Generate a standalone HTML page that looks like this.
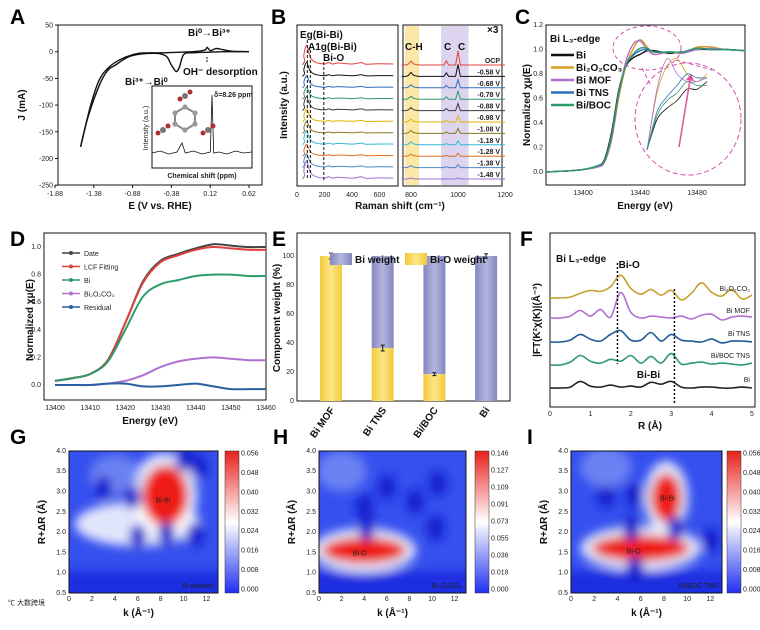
<!DOCTYPE html>
<html><head><meta charset="utf-8"><style>
html,body{margin:0;padding:0;background:#fff;}
svg{display:block;font-family:"Liberation Sans","Noto Sans CJK SC",sans-serif;}
.t{font-size:7px;fill:#222;}
.ax{font-size:10px;font-weight:bold;fill:#111;}
.pl{font-size:21px;font-weight:bold;fill:#000;}
</style></head><body>
<svg id="fig" width="760" height="630" viewBox="0 0 760 630" xmlns="http://www.w3.org/2000/svg">
<defs>
<linearGradient id="cbar" x1="0" y1="1" x2="0" y2="0"><stop offset="0" stop-color="#1f2ff0"/><stop offset="0.5" stop-color="#ffffff"/><stop offset="1" stop-color="#e8201c"/></linearGradient>
<linearGradient id="barBlue" x1="0" x2="1"><stop offset="0" stop-color="#8587c0"/><stop offset="0.5" stop-color="#b4b6de"/><stop offset="1" stop-color="#8587c0"/></linearGradient>
<linearGradient id="barYel" x1="0" x2="1"><stop offset="0" stop-color="#f2c93a"/><stop offset="0.5" stop-color="#fbe687"/><stop offset="1" stop-color="#f2c93a"/></linearGradient>
<filter id="blur" x="-50%" y="-50%" width="200%" height="200%"><feGaussianBlur stdDeviation="5"/></filter>
<clipPath id="clipG"><rect x="69" y="451" width="149" height="142"/></clipPath>
<clipPath id="clipH"><rect x="319" y="451" width="147" height="142"/></clipPath>
<clipPath id="clipI"><rect x="571" y="451" width="151" height="142"/></clipPath>
</defs>
</svg>
<script>
// ---------------- DATA ----------------
const cvLowerE = [-1.55,-1.45,-1.3,-1.2,-1.1,-0.9,-0.6,-0.45,-0.38,-0.32,-0.28,-0.22,-0.1,0.1,0.3,0.62];
const cvLowerJ = [-178,-120,-60,-35,-25,-8,-3,-8,-25,-37,-30,-5,-2,-1,0,0];
const cvUpperE = [0.62,0.4,0.28,0.2,0.16,0.12,0.08,0.05,-0.1,-0.5,-0.8,-1.0,-1.15,-1.3,-1.42,-1.55];
const cvUpperJ = [0,1,4,6,4,2,8,3,0,-2,-3,-12,-25,-50,-100,-178];
const aTicksX = [-1.88,-1.38,-0.88,-0.38,0.12,0.62];
const aTicksY = [50,0,-50,-100,-150,-200,-250];
const nmrShift = [7.9,7.95,8.0,8.05,8.08,8.1,8.15,8.2,8.25,8.26,8.27,8.3,8.35,8.4,8.45,8.5];
const nmrInt = [2,4,1,3,12,2,4,1,3,60,2,3,1,4,2,3];
const ramanLabels = ["OCP","-0.58 V","-0.68 V","-0.78 V","-0.88 V","-0.98 V","-1.08 V","-1.18 V","-1.28 V","-1.38 V","-1.48 V"];
const ramanColors = ["#e0443c","#111111","#2f6fc0","#2e9a6a","#3a3a3a","#e0b400","#8a7a20","#33b8d8","#e07020","#4a86c8","#a070d0"];
const ramanPeakLow = [20,14,12,12,14,13,12,14,12,14,18];
const ramanPeak800 = [4,4,3,3,3,3,3,3,2,2,1];
const ramanPeak1000 = [14,12,8,8,7,6,5,4,3,3,1];
const ramanShiftLow = [50,70,90,110,140,200,230,260,300,400,470,500,600,700];
const ramanTailShape = [0.5,1,0.5,0.25,0.12,0.05,0.12,0.05,0.1,0.05,0.12,0.04,0.06,0.05];
const xEnergy = [13374,13390,13400,13410,13415,13420,13425,13430,13435,13440,13445,13450,13460,13470,13480,13490,13500,13514];
const xColors = ["#111111","#d8a020","#b070d0","#2a70c0","#2e9a6a"];
const xBi   = [0,0.01,0.02,0.05,0.1,0.32,0.66,0.86,0.93,0.96,0.99,0.99,0.97,0.98,1.0,1.0,1.0,0.99];
const xBOC  = [0,0.01,0.02,0.04,0.08,0.26,0.6,0.86,1.0,1.08,1.02,0.96,0.98,0.97,1.02,1.02,1.0,0.99];
const xMOF  = [0,0.01,0.02,0.04,0.08,0.27,0.63,0.9,1.04,1.07,1.0,0.96,0.98,0.97,1.0,1.01,1.0,0.99];
const xTNS  = [0,0.01,0.02,0.05,0.09,0.3,0.64,0.87,0.95,0.99,1.0,0.98,0.98,0.98,1.01,1.0,1.0,0.99];
const xBiBOC= [0,0.01,0.02,0.05,0.09,0.29,0.63,0.87,0.96,1.01,1.01,0.98,0.98,0.98,1.01,1.0,1.0,0.99];
const cTicksX = [13400,13440,13480];
const cTicksY = [0,0.2,0.4,0.6,0.8,1.0,1.2];
const dEnergy = [13400,13405,13410,13415,13420,13425,13430,13435,13440,13445,13450,13455,13460];
const dDate = [0.03,0.05,0.08,0.18,0.45,0.75,0.90,0.95,0.99,1.02,1.01,1.0,1.0];
const dLCF  = [0.03,0.05,0.08,0.18,0.45,0.74,0.89,0.94,0.98,1.0,0.99,0.98,0.98];
const dBi   = [0.03,0.05,0.08,0.17,0.40,0.64,0.73,0.76,0.79,0.80,0.80,0.79,0.79];
const dBOC  = [0,0,0,0.01,0.03,0.07,0.13,0.17,0.19,0.20,0.19,0.18,0.18];
const dRes  = [0,0,0,0.01,0.01,-0.01,-0.01,0,0.01,-0.01,-0.03,-0.03,-0.03];
const dTicksX = [13400,13410,13420,13430,13440,13450,13460];
const dTicksY = [0,0.2,0.4,0.6,0.8,1.0];
const eCats = ["Bi MOF","Bi TNS","Bi/BOC","Bi"];
const eBiO = [100,36.5,18.5,0];
const eErr = [2,2,1,1.5];
const eTicksY = [0,20,40,60,80,100];
const fR = [0,0.25,0.5,0.75,1,1.25,1.5,1.75,2,2.25,2.5,2.75,3,3.25,3.5,3.75,4,4.25,4.5,4.75,5];
const fColors = ["#c8a030","#b070d0","#1f5a9a","#2e9a6a","#222222"];
const fBOC = [0,0,1,5,8,7,12,24,10,4,9,3,8,-2,5,16,6,2,9,-1,3];
const fMOF = [0,0,2,8,2,9,1,27,6,0,2,1,0,2,-1,3,4,-2,1,2,1];
const fTNS = [0,0,2,8,3,1,8,12,2,2,10,1,8,2,1,0,3,-1,1,1,0];
const fBiB = [0,0,3,10,4,2,6,4,10,2,9,2,12,1,2,3,1,2,1,0,2];
const fBi  = [0,0,1,7,2,1,3,1,2,1,6,4,7,1,0,1,1,0,0,1,0];
const gBlobK = [6,8.3,4,8.4,3,5.5,6,8.5,11,10,11.3];
const gBlobR = [2.2,2.9,3.4,2.9,3.1,2.85,1.9,1.95,1.95,3.8,3.6];
const gBlobType = ["w","w","l","r","d","d","d","d","d","d","d"];
const hBlobK = [4,4,2,4,4.2,6,8.5,10.5,10.3];
const hBlobR = [1.55,1.55,3.5,2.65,2.1,3.1,2.75,3.2,2.1];
const hBlobType = ["w","r","l","d","d","d","d","d","d"];
const iBlobK = [6,6,8.2,8.2,3,5.5,5.2,9,12,5.5,3];
const iBlobR = [1.6,1.6,2.85,2.85,2.9,2.9,2.1,2.1,1.8,1.1,3.6];
const iBlobType = ["w","r","w","r","d","d","d","d","d","d","l"];
const hmTicksK = [0,2,4,6,8,10,12];
const hmTicksR = [0.5,1.0,1.5,2.0,2.5,3.0,3.5,4.0];
const gCbar = ["0.000","0.008","0.016","0.024","0.032","0.040","0.048","0.056"];
const hCbar = ["0.000","0.018","0.036","0.055","0.073","0.091","0.109","0.127","0.146"];
const iCbar = ["0.000","0.008","0.016","0.024","0.032","0.040","0.048","0.056"];

// ---------------- HELPERS ----------------
const NS="http://www.w3.org/2000/svg";
const svg=document.getElementById('fig');
function mk(tag,attrs,parent){const e=document.createElementNS(NS,tag);for(const k in attrs)e.setAttribute(k,attrs[k]);(parent||svg).appendChild(e);return e;}
function txt(x,y,s,cls,extra){const e=mk('text',Object.assign({x:x,y:y,class:cls||'t'},extra||{}));e.textContent=s;return e;}
function pathFrom(xs,ys,fx,fy){let d='';for(let i=0;i<xs.length;i++){d+=(i?'L':'M')+fx(xs[i]).toFixed(1)+','+fy(ys[i]).toFixed(1);}return d;}
function smooth(xs,ys,fx,fy){const P=xs.map((x,i)=>[fx(x),fy(ys[i])]);let d='M'+P[0][0].toFixed(1)+','+P[0][1].toFixed(1);for(let i=0;i<P.length-1;i++){const p0=P[Math.max(0,i-1)],p1=P[i],p2=P[i+1],p3=P[Math.min(P.length-1,i+2)];const c1=[p1[0]+(p2[0]-p0[0])/6,p1[1]+(p2[1]-p0[1])/6],c2=[p2[0]-(p3[0]-p1[0])/6,p2[1]-(p3[1]-p1[1])/6];d+='C'+c1[0].toFixed(1)+','+c1[1].toFixed(1)+' '+c2[0].toFixed(1)+','+c2[1].toFixed(1)+' '+p2[0].toFixed(1)+','+p2[1].toFixed(1);}return d;}
function box(x,y,w,h){return mk('rect',{x:x,y:y,width:w,height:h,fill:'none',stroke:'#111','stroke-width':1});}
function panelLabel(x,y,s){const e=txt(x,y,s,'pl');}

// ================= PANEL A =================
panelLabel(10,24,'A');
const AX=e=>55+(e+1.88)/0.5*38.8, AY=j=>51.7-j*26.7/50;
let b=box(58,25,204,160);


aTicksX.forEach(v=>{mk('line',{x1:AX(v),x2:AX(v),y1:185,y2:188,stroke:'#111'});const t=txt(AX(v),196,v.toFixed(2),'t',{'text-anchor':'middle'});});
aTicksY.forEach(v=>{mk('line',{x1:55,x2:58,y1:AY(v),y2:AY(v),stroke:'#111'});const t=txt(53,AY(v)+2.5,String(v),'t',{'text-anchor':'end'});});
let at=txt(160,209,'E (V vs. RHE)','ax',{'text-anchor':'middle'});


at=txt(25,105,'J (mA)','ax',{'text-anchor':'middle',transform:'rotate(-90 25 105)'});


let p=mk('path',{d:smooth(cvLowerE,cvLowerJ,AX,AY),fill:'none',stroke:'#111','stroke-width':1.4});


p=mk('path',{d:smooth(cvUpperE,cvUpperJ,AX,AY),fill:'none',stroke:'#111','stroke-width':1.4});


at=txt(188,36,'Bi⁰→Bi³⁺','ax',{'font-size':'9'});


at=txt(125,85,'Bi³⁺→Bi⁰','ax',{'font-size':'9'});


at=txt(183,75,'OH⁻ desorption','ax',{'font-size':'9'});


mk('line',{x1:207,x2:207,y1:57,y2:63,stroke:'#111','stroke-dasharray':'2,1'});
b=box(152,86,100,82);


const NX=s=>152+(s-7.9)/0.6*100, NY=v=>155-v;
p=mk('path',{d:pathFrom(nmrShift,nmrInt,NX,NY),fill:'none',stroke:'#111','stroke-width':0.8});


at=txt(214,97,'δ=8.26 ppm','t',{'font-size':'7','font-weight':'bold'});


at=txt(202,178,'Chemical shift (ppm)','t',{'font-size':'5','text-anchor':'middle','font-weight':'bold'});


at=txt(148,128,'Intensity (a.u.)','t',{'font-size':'4.5','text-anchor':'middle',transform:'rotate(-90 148 128)'});


const mol=mk('g',{});


[[175,113],[185,107],[195,113],[195,124],[185,130],[175,124]].forEach((c,i,a)=>{const n=a[(i+1)%6];mk('line',{x1:c[0],y1:c[1],x2:n[0],y2:n[1],stroke:'#888','stroke-width':2},mol);});
[[185,96],[208,130],[163,130]].forEach(c=>{mk('circle',{cx:c[0],cy:c[1],r:3,fill:'#777'},mol);mk('circle',{cx:c[0]+5,cy:c[1]-4,r:2.5,fill:'#b03030'},mol);mk('circle',{cx:c[0]-5,cy:c[1]+3,r:2.5,fill:'#b03030'},mol);});
[[175,113],[185,107],[195,113],[195,124],[185,130],[175,124]].forEach(c=>mk('circle',{cx:c[0],cy:c[1],r:2.6,fill:'#999'},mol));

// ================= PANEL B =================
panelLabel(271,24,'B');
const BXL=r=>297+r*0.1375, BXR=r=>411+(r-800)*0.235;
const baseY=i=>65+i*11.4;
b=box(297,25,101,161);


b=box(403,25,99,161);


let band=mk('rect',{x:BXR(775),y:26,width:BXR(835)-BXR(775),height:159,fill:'#fbe8a8'});


band=mk('rect',{x:BXR(928),y:26,width:BXR(1045)-BXR(928),height:159,fill:'#ddd4ef'});


[0,200,400,600].forEach(v=>{const t=txt(BXL(v),197,String(v),'t',{'text-anchor':'middle','font-size':'9'});});
[800,1000,1200].forEach(v=>{const t=txt(BXR(v),197,String(v),'t',{'text-anchor':'middle','font-size':'9'});});
ramanLabels.forEach((lab,i)=>{
  const by=baseY(i);
  const xs=[40,55].concat(ramanShiftLow), ys=[0,0.2].concat(ramanTailShape);
  let pl=mk('path',{d:smooth(xs,ys,r=>BXL(Math.min(r,735)),v=>by-v*ramanPeakLow[i]),fill:'none',stroke:ramanColors[i],'stroke-width':1});
  
  
  const hx=[760,780,790,800,810,830,940,950,960,990,1000,1010,1030,1200];
  const hy=[0,0,0.3,1,0.3,0,0,0.3*ramanPeak1000[i]/ramanPeak800[i],0,0,ramanPeak1000[i]/ramanPeak800[i],0,0,0];
  pl=mk('path',{d:pathFrom(hx,hy,BXR,v=>by-v*ramanPeak800[i]),fill:'none',stroke:ramanColors[i],'stroke-width':1});
  
  
  const t=txt(500,by-2,lab,'t',{'text-anchor':'end','font-size':'7.5','font-weight':'bold'});
  
  
});
[BXL(75),BXL(97),BXL(195)].forEach((x,i)=>mk('line',{x1:x,x2:x,y1:[40,50,62][i],y2:180,stroke:'#111','stroke-dasharray':'3,2'}));
[['Eg(Bi-Bi)',300,38],['A1g(Bi-Bi)',308,50],['Bi-O',323,61]].forEach(a=>{const t=txt(a[1],a[2],a[0],'ax',{'font-size':'9.5','font-weight':'normal'});});
[['C-H',405,50],['C',444,50],['C',458,50],['×3',487,33]].forEach(a=>{const t=txt(a[1],a[2],a[0],'ax',{'font-size':'8'});});
at=txt(400,209,'Raman shift (cm⁻¹)','ax',{'text-anchor':'middle'});


at=txt(287,105,'Intensity (a.u.)','ax',{'text-anchor':'middle',transform:'rotate(-90 287 105)'});



// ================= PANEL C =================
panelLabel(515,24,'C');
const CX=e=>583+(e-13400)*1.425, CY=v=>172-v*122.5;
b=box(546,25,199,160);


cTicksX.forEach(v=>{const t=txt(CX(v),195,String(v),'t',{'text-anchor':'middle','font-size':'6'});});
cTicksY.forEach(v=>{const t=txt(543,CY(v)+2,v.toFixed(1),'t',{'text-anchor':'end','font-size':'6'});});
[xBi,xBOC,xMOF,xTNS,xBiBOC].forEach((s,i)=>{const pl=mk('path',{d:smooth(xEnergy,s,CX,CY),fill:'none',stroke:xColors[i],'stroke-width':1.4});});
at=txt(550,42,'Bi L₃-edge','ax',{'font-size':'10'});


["Bi","Bi₂O₂CO₃","Bi MOF","Bi TNS","Bi/BOC"].forEach((n,i)=>{const y=55+i*12.5;mk('line',{x1:551,x2:574,y1:y,y2:y,stroke:xColors[i],'stroke-width':2.5});const t=txt(576,y+3.5,n,'ax',{'font-size':'9.5'});});
mk('ellipse',{cx:647,cy:48,rx:34,ry:22,fill:'none',stroke:'#d050b0','stroke-dasharray':'4,3'});
let cz=mk('ellipse',{cx:688,cy:119,rx:53,ry:56,fill:'none',stroke:'#d050b0','stroke-dasharray':'5,3'});


mk('line',{x1:642,x2:650,y1:68,y2:84,stroke:'#d050b0','stroke-dasharray':'4,3'});
mk('line',{x1:676,x2:712,y1:60,y2:70,stroke:'#d050b0','stroke-dasharray':'4,3'});
const zE=[0,1,2,3,4,5,6], zoomBase=[[0,8,11,13,16,16,18],[0,15,22,24,20,18,20],[0,16,24,20,18,18,19],[0,10,14,17,20,19,19],[0,9,13,15,18,17,17]];
zoomBase.forEach((s,i)=>{const pl=mk('path',{d:smooth(zE,s,k=>647+k*10,v=>150-v*3.8),fill:'none',stroke:xColors[i],'stroke-width':0.8});});
mk('line',{x1:679,x2:690,y1:147,y2:80,stroke:'#e0509a','stroke-width':1.5});
mk('path',{d:'M686,80 L691,74 L694,81 Z',fill:'#e0509a'});
at=txt(645,209,'Energy (eV)','ax',{'text-anchor':'middle'});


at=txt(530,105,'Normalized χμ(E)','ax',{'text-anchor':'middle',transform:'rotate(-90 530 105)'});



// ================= PANEL D =================
panelLabel(10,246,'D');
const DX=e=>55+(e-13400)*3.517, DY=v=>385-v*138;
b=box(44,233,222,167);


dTicksX.forEach(v=>{const t=txt(DX(v),410,String(v),'t',{'text-anchor':'middle','font-size':'6.5'});});
dTicksY.forEach(v=>{const t=txt(41,DY(v)+2,v.toFixed(1),'t',{'text-anchor':'end','font-size':'6.5'});});
const dCols=["#444444","#e04040","#2e9a6a","#b070d0","#2a5fa0"], dNames=["Date","LCF Fitting","Bi","Bi₂O₂CO₃","Residual"];
[dDate,dLCF,dBi,dBOC,dRes].forEach((s,i)=>{const pl=mk('path',{d:smooth(dEnergy,s,DX,DY),fill:'none',stroke:dCols[i],'stroke-width':2});
  const t=txt(84,256+i*13.5,dNames[i],'t',{'font-size':'8'});
  mk('line',{x1:62,x2:80,y1:253+i*13.5,y2:253+i*13.5,stroke:dCols[i],'stroke-width':1.5});mk('circle',{cx:71,cy:253+i*13.5,r:2,fill:dCols[i]});});
at=txt(150,424,'Energy (eV)','ax',{'text-anchor':'middle'});


at=txt(33,320,'Normalized χμ(E)','ax',{'text-anchor':'middle',transform:'rotate(-90 33 320)'});



// ================= PANEL E =================
panelLabel(272,246,'E');
const EY=v=>401-v*1.45, EX=i=>331+i*51.7;
b=box(297,233,213,168);


eTicksY.forEach(v=>{const t=txt(294,EY(v)+2,String(v),'t',{'text-anchor':'end','font-size':'6.5'});});
eCats.forEach((c,i)=>{
  let r=mk('rect',{x:EX(i)-11,y:EY(100),width:22,height:EY(eBiO[i])-EY(100),fill:'url(#barBlue)'});
  
  
  r=mk('rect',{x:EX(i)-11,y:EY(eBiO[i]),width:22,height:EY(0)-EY(eBiO[i]),fill:'url(#barYel)'});
  
  
  const ey=(eBiO[i]>0&&eBiO[i]<100)?eBiO[i]:100;
  mk('line',{x1:EX(i),x2:EX(i),y1:EY(ey+eErr[i]),y2:EY(ey-eErr[i]),stroke:'#111'});
  mk('line',{x1:EX(i)-2,x2:EX(i)+2,y1:EY(ey+eErr[i]),y2:EY(ey+eErr[i]),stroke:'#111'});
  mk('line',{x1:EX(i)-2,x2:EX(i)+2,y1:EY(ey-eErr[i]),y2:EY(ey-eErr[i]),stroke:'#111'});
  const t=txt(EX(i)+4,410,c,'ax',{'text-anchor':'end','font-size':'9','font-weight':'normal',transform:'rotate(-55 '+(EX(i)+4)+' 410)'});
  
  
});
mk('rect',{x:330,y:253,width:22,height:12,fill:'url(#barBlue)'});
at=txt(355,263,'Bi weight','ax',{'font-size':'10','font-weight':'normal'});


mk('rect',{x:405,y:253,width:22,height:12,fill:'url(#barYel)'});
at=txt(430,263,'Bi-O weight','ax',{'font-size':'10','font-weight':'normal'});


at=txt(280,318,'Component weight (%)','ax',{'text-anchor':'middle',transform:'rotate(-90 280 318)'});



// ================= PANEL F =================
panelLabel(520,246,'F');
const FX=r=>550+r*40.4, fBase=[298,318,342,365,388];
b=box(550,233,205,174);


[0,1,2,3,4,5].forEach(v=>{const t=txt(FX(v),416,String(v),'t',{'text-anchor':'middle','font-size':'6.5'});});
[fBOC,fMOF,fTNS,fBiB,fBi].forEach((s,i)=>{const pl=mk('path',{d:smooth(fR,s,FX,v=>fBase[i]-v*0.95),fill:'none',stroke:fColors[i],'stroke-width':1.6});});
const fLab=[["Bi₂O₂CO₃",750,291],["Bi MOF",750,313],["Bi TNS",750,336],["Bi/BOC TNS",750,358],["Bi",750,382]];
fLab.forEach((l,i)=>{const t=txt(l[1],l[2],l[0],'t',{'text-anchor':'end','font-size':'9.5',fill:fColors[i]});});
mk('line',{x1:FX(1.67),x2:FX(1.67),y1:263,y2:364,stroke:'#111','stroke-dasharray':'2,2','stroke-width':1.5});
mk('line',{x1:FX(3.08),x2:FX(3.08),y1:289,y2:404,stroke:'#111','stroke-dasharray':'2,2','stroke-width':1.5});
at=txt(556,262,'Bi L₃-edge','ax',{'font-size':'9','font-weight':'normal'});


at=txt(FX(1.7),268,'Bi-O','ax',{'font-size':'9','font-weight':'normal'});


at=txt(FX(2.15),378,'Bi-Bi','ax',{'font-size':'9','font-weight':'normal'});


at=txt(650,429,'R (Å)','ax',{'text-anchor':'middle'});


at=txt(540,320,'|FT(K²χ(K)|(Å⁻³)','ax',{'text-anchor':'middle','font-size':'9',transform:'rotate(-90 540 320)'});



// ================= HEATMAPS =================
const blobStyle={w:['#ffffff',0.85,2.2,0.7],r:['#ee1c18',1,1,0.45],l:['#8fa2f6',0.6,2.2,0.5],d:['#0a16c8',0.9,0.75,0.3]};
function heatmap(name,x0,w,clip,ks,rs,types,cbx,cbLabels,sample,sizes){
  const KX=k=>x0+k*(w/13), RY=r=>593-(r-0.5)*40.6;
  const g=mk('g',{'clip-path':'url(#'+clip+')'});
  
  
  mk('rect',{x:x0,y:451,width:w,height:142,fill:'#3550ee'},g);
  const inner=mk('g',{filter:'url(#blur)'},g);
  mk('rect',{x:x0-10,y:RY(1.05),width:w+20,height:40,fill:'#1a2ee0'},inner);
  ks.forEach((k,i)=>{const st=blobStyle[types[i]];const sz=sizes[i]||[st[2],st[3]];
    const e=mk('ellipse',{cx:KX(k),cy:RY(rs[i]),rx:sz[0]*(w/13),ry:sz[1]*40.6,fill:st[0],opacity:st[1]},inner);
    
    });
  box(x0,451,w,142);
  hmTicksK.forEach(v=>{const t=txt(KX(v),601,String(v),'t',{'text-anchor':'middle','font-size':'6.5'});});
  hmTicksR.forEach(v=>{const t=txt(x0-3,RY(v)+2,v.toFixed(1),'t',{'text-anchor':'end','font-size':'6.5'});});
  let cb=mk('rect',{x:cbx,y:451,width:14,height:142,fill:'url(#cbar)',stroke:'#333','stroke-width':0.5});
  
  
  cbLabels.forEach((l,i)=>{const y=590-i*(136/(cbLabels.length-1));const t=txt(cbx+16,y+1.5,l,'t',{'font-size':'4'});});
  let t=txt(x0+w/2+(x0<100?-5:0),616,'k (Å⁻¹)','ax',{'text-anchor':'middle','font-size':'9.5'});
  
  
  t=txt(x0-24,522,'R+ΔR (Å)','ax',{'text-anchor':'middle','font-size':'9.5',transform:'rotate(-90 '+(x0-24)+' 522)'});
  
  
  t=txt(x0+w-4,588,sample,'t',{'text-anchor':'end','font-size':'8.5',fill:'#fff'});
  
  
  return {KX,RY};
}
panelLabel(10,444,'G');
let m=heatmap('g',69,149,'clipG',gBlobK,gBlobR,gBlobType,225,gCbar,'Bi powder',{0:[5.5,0.55],1:[2.9,1.05],3:[2.0,0.75]});
at=txt(m.KX(8.2),m.RY(2.8)+3,'Bi-Bi','t',{'text-anchor':'middle','font-size':'8.5'});


panelLabel(273,444,'H');
m=heatmap('h',319,147,'clipH',hBlobK,hBlobR,hBlobType,475,hCbar,'Bi₂O₂CO₃',{0:[4.6,0.55],1:[3.7,0.32]});
at=txt(m.KX(3.6),m.RY(1.5)+3,'Bi-O','t',{'text-anchor':'middle','font-size':'8.5'});


panelLabel(527,444,'I');
m=heatmap('i',571,151,'clipI',iBlobK,iBlobR,iBlobType,727,iCbar,'Bi/BOC TNS',{0:[5.2,0.55],1:[4.2,0.32],2:[1.9,0.9],3:[1.3,0.6]});
at=txt(m.KX(5.4),m.RY(1.55)+3,'Bi-O','t',{'text-anchor':'middle','font-size':'8.5'});


at=txt(m.KX(8.3),m.RY(2.85)+3,'Bi-Bi','t',{'text-anchor':'middle','font-size':'8.5'});


at=txt(8,605,'℃ 大数跨境','t',{'font-size':'12',fill:'#ccc'});


</script>
</body></html>
